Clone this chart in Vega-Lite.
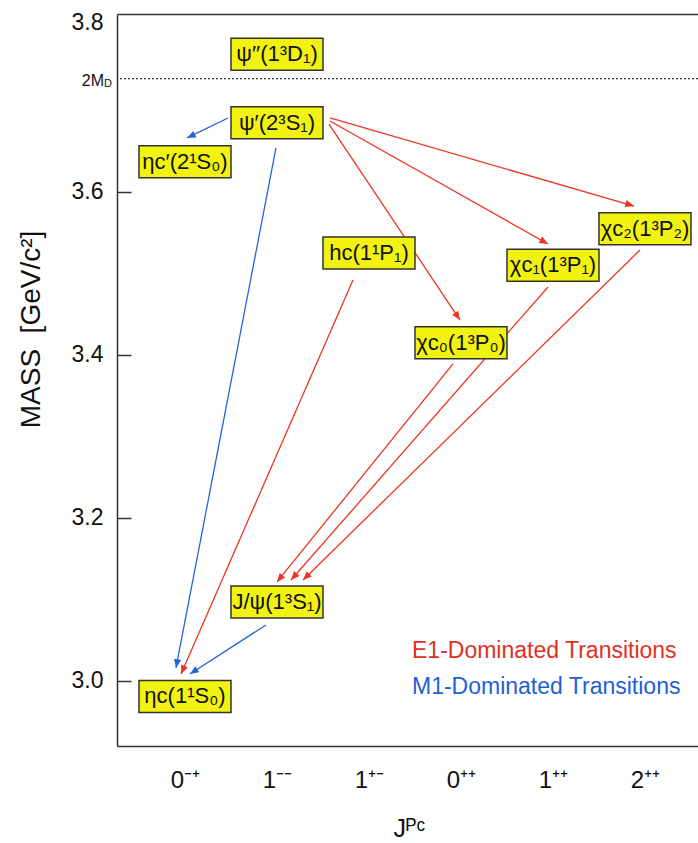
{
  "$schema": "https://vega.github.io/schema/vega-lite/v6.json",
  "width": 581,
  "height": 732,
  "autosize": {"type": "none"},
  "padding": {"left": 117, "top": 14, "right": 0, "bottom": 97},
  "background": "white",
  "config": {
    "font": "Liberation Sans",
    "view": {"stroke": null}
  },
  "datasets": {
    "states": [
      {"state": "ηc(1¹S₀)", "jpc": 0, "mass": 2.981},
      {"state": "ηc′(2¹S₀)", "jpc": 0, "mass": 3.637},
      {"state": "J/ψ(1³S₁)", "jpc": 1, "mass": 3.097},
      {"state": "ψ′(2³S₁)", "jpc": 1, "mass": 3.685},
      {"state": "ψ′′(1³D₁)", "jpc": 1, "mass": 3.769},
      {"state": "hc(1¹P₁)", "jpc": 2, "mass": 3.525},
      {"state": "χc₀(1³P₀)", "jpc": 3, "mass": 3.415},
      {"state": "χc₁(1³P₁)", "jpc": 4, "mass": 3.510},
      {"state": "χc₂(1³P₂)", "jpc": 5, "mass": 3.555}
    ],
    "arrows": [
      {"from": "ψ′", "to": "ηc′", "type": "M1-Dominated Transitions", "x1": 0.467, "m1": 3.6908, "x2": 0.022, "m2": 3.6663},
      {"from": "ψ′", "to": "ηc", "type": "M1-Dominated Transitions", "x1": 0.989, "m1": 3.6540, "x2": -0.098, "m2": 3.0160},
      {"from": "J/ψ", "to": "ηc", "type": "M1-Dominated Transitions", "x1": 0.880, "m1": 3.0687, "x2": 0.054, "m2": 3.0086},
      {"from": "ψ′", "to": "χc2", "type": "E1-Dominated Transitions", "x1": 1.576, "m1": 3.6908, "x2": 4.880, "m2": 3.5828},
      {"from": "ψ′", "to": "χc1", "type": "E1-Dominated Transitions", "x1": 1.576, "m1": 3.6871, "x2": 3.946, "m2": 3.5362},
      {"from": "ψ′", "to": "χc0", "type": "E1-Dominated Transitions", "x1": 1.565, "m1": 3.6834, "x2": 2.989, "m2": 3.4429},
      {"from": "hc", "to": "ηc", "type": "E1-Dominated Transitions", "x1": 1.826, "m1": 3.4920, "x2": -0.043, "m2": 3.0086},
      {"from": "χc0", "to": "J/ψ", "type": "E1-Dominated Transitions", "x1": 2.913, "m1": 3.3890, "x2": 1.000, "m2": 3.1215},
      {"from": "χc1", "to": "J/ψ", "type": "E1-Dominated Transitions", "x1": 3.946, "m1": 3.4834, "x2": 1.152, "m2": 3.1239},
      {"from": "χc2", "to": "J/ψ", "type": "E1-Dominated Transitions", "x1": 4.946, "m1": 3.5288, "x2": 1.283, "m2": 3.1239}
    ],
    "threshold": [{"label": "2M", "sub": "D", "mass": 3.739}]
  },
  "resolve": {"axis": {"x": "independent", "y": "independent"}},
  "layer": [
    {
      "data": {"name": "threshold"},
      "mark": {"type": "rule", "color": "#333", "strokeWidth": 1.2, "strokeDash": [2, 2]},
      "encoding": {
        "y": {"field": "mass", "type": "quantitative", "scale": {"domain": [2.9202, 3.8184], "nice": false, "zero": false}, "axis": null}
      }
    },
    {
      "data": {"name": "arrows"},
      "mark": {"type": "rule", "strokeWidth": 1.3},
      "encoding": {
        "x": {"field": "x1", "type": "quantitative", "scale": {"domain": [-0.7391, 5.5761], "nice": false, "zero": false}, "axis": null},
        "y": {"field": "m1", "type": "quantitative", "axis": null},
        "x2": {"field": "x2"},
        "y2": {"field": "m2"},
        "color": {
          "field": "type", "type": "nominal",
          "scale": {"domain": ["E1-Dominated Transitions", "M1-Dominated Transitions"], "range": ["#ea3520", "#2463dc"]},
          "legend": {
            "orient": "none", "legendX": 272, "legendY": 625, "title": null,
            "labelFontSize": 23, "labelLimit": 0, "labelOffset": 0,
            "symbolSize": 0, "symbolStrokeWidth": 0, "symbolOpacity": 0,
            "rowPadding": 12,
            "labelColor": {"expr": "datum.label == 'E1-Dominated Transitions' ? '#e2301e' : '#1f5fd8'"}
          }
        }
      }
    },
    {
      "data": {"name": "arrows"},
      "transform": [
        {"calculate": "atan2((datum.x2 - datum.x1) * 92, (datum.m2 - datum.m1) * 815) * 180 / PI", "as": "heading"}
      ],
      "mark": {"type": "point", "shape": "M0,0L0.42,1L-0.42,1Z", "filled": true, "size": 300, "opacity": 1, "strokeWidth": 0},
      "encoding": {
        "x": {"field": "x2", "type": "quantitative", "axis": null},
        "y": {"field": "m2", "type": "quantitative", "axis": null},
        "angle": {"field": "heading", "type": "quantitative", "scale": null},
        "color": {"field": "type", "type": "nominal", "legend": null}
      }
    },
    {
      "data": {"name": "states"},
      "mark": {"type": "point", "shape": "M-1,-0.348H1V0.348H-1Z", "size": 8464, "filled": true, "fill": "#f2f211", "stroke": "#333", "strokeWidth": 1.5, "opacity": 1},
      "encoding": {
        "x": {
          "field": "jpc", "type": "quantitative",
          "axis": {
            "orient": "bottom", "values": [0, 1, 2, 3, 4, 5],
            "labelExpr": "['0⁻⁺','1⁻⁻','1⁺⁻','0⁺⁺','1⁺⁺','2⁺⁺'][datum.value]",
            "labelFontSize": 24, "labelColor": "#111", "labelPadding": 22,
            "ticks": false, "grid": false, "domain": true, "domainColor": "#333", "domainWidth": 1.5,
            "title": "Jᴾᶜ", "titleFontSize": 25, "titleFontWeight": "normal", "titleColor": "#111",
            "titleX": 292, "titleY": 82, "titleBaseline": "middle"
          }
        },
        "y": {
          "field": "mass", "type": "quantitative",
          "axis": {
            "values": [3.0, 3.2, 3.4, 3.6, 3.8], "format": ".1f",
            "labelFontSize": 23, "labelColor": "#111", "labelPadding": 28,
            "labelOffset": {"condition": {"test": "datum.value > 3.79", "value": -6}, "value": 0},
            "tickSize": -14, "tickColor": {"condition": {"test": "datum.value > 3.79", "value": "transparent"}, "value": "#333"}, "tickWidth": 1.5,
            "grid": false, "domain": true, "domainColor": "#333", "domainWidth": 1.5,
            "title": "MASS\u00a0\u00a0[GeV/c²]", "titleFontSize": 28, "titleFontWeight": "normal", "titleColor": "#111",
            "titleX": -86, "titleY": 315, "titleBaseline": "middle", "titleAlign": "center", "titleAngle": 270
          }
        }
      }
    },
    {
      "data": {"name": "states"},
      "mark": {"type": "text", "fontSize": 22, "color": "#111", "align": "center", "baseline": "middle"},
      "encoding": {
        "x": {
          "field": "jpc", "type": "quantitative",
          "axis": {"orient": "top", "labels": false, "ticks": false, "grid": false, "title": null, "domain": true, "domainColor": "#333", "domainWidth": 1.5}
        },
        "y": {"field": "mass", "type": "quantitative", "axis": null},
        "text": {"field": "state"}
      }
    },
    {
      "data": {"name": "threshold"},
      "mark": {"type": "text", "fontSize": 16, "color": "#111", "align": "right", "baseline": "middle", "dx": -13, "dy": 2},
      "encoding": {
        "x": {"datum": -0.7391, "axis": null},
        "y": {"field": "mass", "type": "quantitative", "axis": null},
        "text": {"field": "label"}
      }
    },
    {
      "data": {"name": "threshold"},
      "mark": {"type": "text", "fontSize": 11, "color": "#111", "align": "left", "baseline": "middle", "dx": -13, "dy": 5},
      "encoding": {
        "x": {"datum": -0.7391, "axis": null},
        "y": {"field": "mass", "type": "quantitative", "axis": null},
        "text": {"field": "sub"}
      }
    }
  ]
}
